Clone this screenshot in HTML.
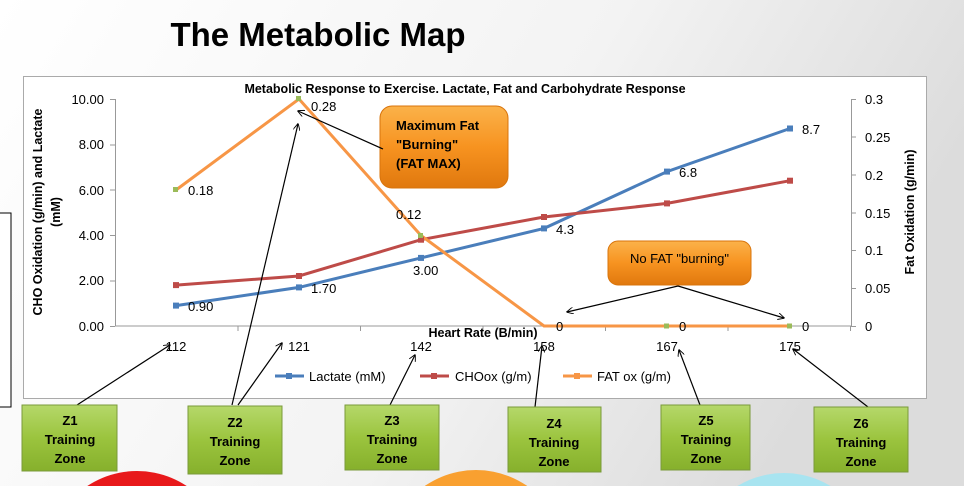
<!DOCTYPE html>
<html><head><meta charset="utf-8"><style>
html,body{margin:0;padding:0;width:964px;height:486px;overflow:hidden}
svg{display:block}
</style></head><body>
<svg width="964" height="486" viewBox="0 0 964 486" xmlns="http://www.w3.org/2000/svg" font-family="Liberation Sans, sans-serif" overflow="hidden">
<defs>
<linearGradient id="bg" x1="0" y1="0" x2="1" y2="0.3">
<stop offset="0" stop-color="#ffffff"/><stop offset="0.6" stop-color="#f3f3f3"/><stop offset="1" stop-color="#dcdcdc"/>
</linearGradient>
<linearGradient id="org" x1="0" y1="0" x2="0" y2="1">
<stop offset="0" stop-color="#fbb24a"/><stop offset="0.5" stop-color="#f79320"/><stop offset="1" stop-color="#e0780e"/>
</linearGradient>
<linearGradient id="grn" x1="0" y1="0" x2="0" y2="1">
<stop offset="0" stop-color="#b5d86a"/><stop offset="0.5" stop-color="#9bc43e"/><stop offset="1" stop-color="#86b02c"/>
</linearGradient>
<clipPath id="cp"><rect width="964" height="486"/></clipPath>
<marker id="ah" viewBox="0 0 10 10" refX="9" refY="5" markerWidth="7" markerHeight="7" orient="auto-start-reverse" markerUnits="userSpaceOnUse">
<path d="M0,0 L10,5 L0,10" fill="none" stroke="#000" stroke-width="1.3"/></marker>
</defs>
<g clip-path="url(#cp)">
<rect width="964" height="486" fill="url(#bg)"/>
<text x="318" y="46" font-size="33" font-weight="bold" text-anchor="middle" font-family="Liberation Sans Narrow, Liberation Sans, sans-serif" textLength="295" lengthAdjust="spacingAndGlyphs">The Metabolic Map</text>
<!-- bottom circles -->
<circle cx="137" cy="561" r="90" fill="#e8191b"/>
<circle cx="476" cy="560" r="90" fill="#f9a030"/>
<circle cx="784" cy="563" r="90" fill="#a8e4f0"/>
<!-- left small box -->
<rect x="-2" y="213" width="13" height="194" fill="#fff" stroke="#000" stroke-width="1"/>
<!-- chart box -->
<rect x="23.5" y="76.5" width="903" height="322" fill="#fff" stroke="#aaa"/>
<text x="465" y="93" font-size="12.5" font-weight="bold" text-anchor="middle">Metabolic Response to Exercise. Lactate, Fat and Carbohydrate Response</text>
<!-- axes -->
<g stroke="#999" stroke-width="1" fill="none">
<path d="M115.5,99 V326 H851"/>
<path d="M851.5,99 V326"/>
<path d="M110,99.5h5M110,145h5M110,190h5M110,235.5h5M110,281h5M110,326.5h5"/>
<path d="M851,99.5h5M851,137h5M851,175h5M851,213h5M851,250.5h5M851,288.5h5M851,326.5h5"/>
<path d="M238,326v5M360.5,326v5M483,326v5M605.5,326v5M728,326v5M850.5,326v5"/>
</g>
<g font-size="13" text-anchor="end">
<text x="104" y="104">10.00</text><text x="104" y="149">8.00</text><text x="104" y="195">6.00</text>
<text x="104" y="240">4.00</text><text x="104" y="285">2.00</text><text x="104" y="331">0.00</text>
</g>
<g font-size="13">
<text x="865" y="104">0.3</text><text x="865" y="142">0.25</text><text x="865" y="180">0.2</text>
<text x="865" y="218">0.15</text><text x="865" y="255">0.1</text><text x="865" y="293">0.05</text><text x="865" y="331">0</text>
</g>
<text transform="translate(42,212) rotate(-90)" font-size="12.5" font-weight="bold" text-anchor="middle">CHO Oxidation (g/min) and Lactate</text>
<text transform="translate(60,212) rotate(-90)" font-size="12.5" font-weight="bold" text-anchor="middle">(mM)</text>
<text transform="translate(914,212) rotate(-90)" font-size="12.5" font-weight="bold" text-anchor="middle">Fat Oxidation (g/min)</text>
<text x="483" y="337" font-size="12.5" font-weight="bold" text-anchor="middle">Heart Rate (B/min)</text>
<g font-size="13" text-anchor="middle">
<text x="176" y="351">112</text><text x="299" y="351">121</text><text x="421" y="351">142</text>
<text x="544" y="351">158</text><text x="667" y="351">167</text><text x="790" y="351">175</text>
</g>
<!-- series -->
<polyline points="176,305.6 299,287.4 421,257.9 544,228.4 667,171.6 790,128.5" fill="none" stroke="#4a7ebb" stroke-width="3"/>
<polyline points="176,285.1 299,276 421,239.7 544,217 667,203.4 790,180.7" fill="none" stroke="#be4b48" stroke-width="3"/>
<polyline points="176,190 299,99 421,235.5 544,326 667,326 790,326" fill="none" stroke="#f79646" stroke-width="3"/>
<g fill="#4a7ebb"><rect x="173" y="302.6" width="6" height="6"/><rect x="296" y="284.4" width="6" height="6"/><rect x="418" y="254.9" width="6" height="6"/><rect x="541" y="225.4" width="6" height="6"/><rect x="664" y="168.6" width="6" height="6"/><rect x="787" y="125.5" width="6" height="6"/></g>
<g fill="#be4b48"><rect x="173" y="282.1" width="6" height="6"/><rect x="296" y="273" width="6" height="6"/><rect x="418" y="236.7" width="6" height="6"/><rect x="541" y="214" width="6" height="6"/><rect x="664" y="200.4" width="6" height="6"/><rect x="787" y="177.7" width="6" height="6"/></g>
<g fill="#9bbb59"><rect x="173" y="187" width="5" height="5"/><rect x="296" y="96" width="5" height="5"/><rect x="418" y="233" width="5" height="5"/><rect x="664" y="323.5" width="5" height="5"/><rect x="787" y="323.5" width="5" height="5"/></g>
<g font-size="13">
<text x="188" y="311">0.90</text><text x="311" y="293">1.70</text><text x="413" y="275">3.00</text><text x="556" y="234">4.3</text>
<text x="679" y="177">6.8</text><text x="802" y="134">8.7</text>
<text x="188" y="195">0.18</text><text x="311" y="111">0.28</text><text x="396" y="219">0.12</text>
<text x="556" y="331">0</text><text x="679" y="331">0</text><text x="802" y="331">0</text>
</g>
<!-- legend -->
<g font-size="13">
<line x1="275" y1="376" x2="304" y2="376" stroke="#4a7ebb" stroke-width="3"/><rect x="286" y="373" width="6" height="6" fill="#4a7ebb"/>
<text x="309" y="381">Lactate (mM)</text>
<line x1="420" y1="376" x2="449" y2="376" stroke="#be4b48" stroke-width="3"/><rect x="431" y="373" width="6" height="6" fill="#be4b48"/>
<text x="455" y="381">CHOox (g/m)</text>
<line x1="563" y1="376" x2="592" y2="376" stroke="#f79646" stroke-width="3"/><rect x="574" y="373" width="6" height="6" fill="#f79646"/>
<text x="597" y="381">FAT ox (g/m)</text>
</g>
<!-- callouts -->
<rect x="380" y="106" width="128" height="82" rx="12" fill="url(#org)" stroke="#d8740c"/>
<g font-size="13" font-weight="bold"><text x="396" y="130">Maximum Fat</text><text x="396" y="149">"Burning"</text><text x="396" y="168">(FAT MAX)</text></g>
<rect x="608" y="241" width="143" height="44" rx="10" fill="url(#org)" stroke="#d8740c"/>
<text x="679.5" y="263" font-size="13" text-anchor="middle">No FAT "burning"</text>
<g stroke="#000" stroke-width="1.2" fill="none" marker-end="url(#ah)">
<line x1="383" y1="149" x2="298" y2="111"/>
<line x1="678" y1="286" x2="567" y2="312"/>
<line x1="678" y1="286" x2="784" y2="318"/>
<line x1="77" y1="405" x2="170" y2="345"/>
<line x1="232" y1="405" x2="298" y2="124"/>
<line x1="238" y1="405" x2="282" y2="343"/>
<line x1="390" y1="405" x2="415" y2="355"/>
<line x1="535" y1="407" x2="542" y2="346"/>
<line x1="700" y1="405" x2="679" y2="350"/>
<line x1="868" y1="407" x2="793" y2="349"/>
</g>
<!-- zone boxes -->
<g fill="url(#grn)" stroke="#7a9a3a">
<rect x="22" y="405" width="95" height="66"/><rect x="188" y="406" width="94" height="68"/>
<rect x="345" y="405" width="94" height="65"/><rect x="508" y="407" width="93" height="65"/>
<rect x="661" y="405" width="89" height="65"/><rect x="814" y="407" width="94" height="65"/>
</g>
<g font-size="13" font-weight="bold" text-anchor="middle" font-family="Liberation Sans Narrow, Liberation Sans, sans-serif">
<text x="70" y="425">Z1</text><text x="70" y="444">Training</text><text x="70" y="463">Zone</text>
<text x="235" y="427">Z2</text><text x="235" y="446">Training</text><text x="235" y="465">Zone</text>
<text x="392" y="425">Z3</text><text x="392" y="444">Training</text><text x="392" y="463">Zone</text>
<text x="554" y="428">Z4</text><text x="554" y="447">Training</text><text x="554" y="466">Zone</text>
<text x="706" y="425">Z5</text><text x="706" y="444">Training</text><text x="706" y="463">Zone</text>
<text x="861" y="428">Z6</text><text x="861" y="447">Training</text><text x="861" y="466">Zone</text>
</g>
</g>
</svg>
</body></html>
